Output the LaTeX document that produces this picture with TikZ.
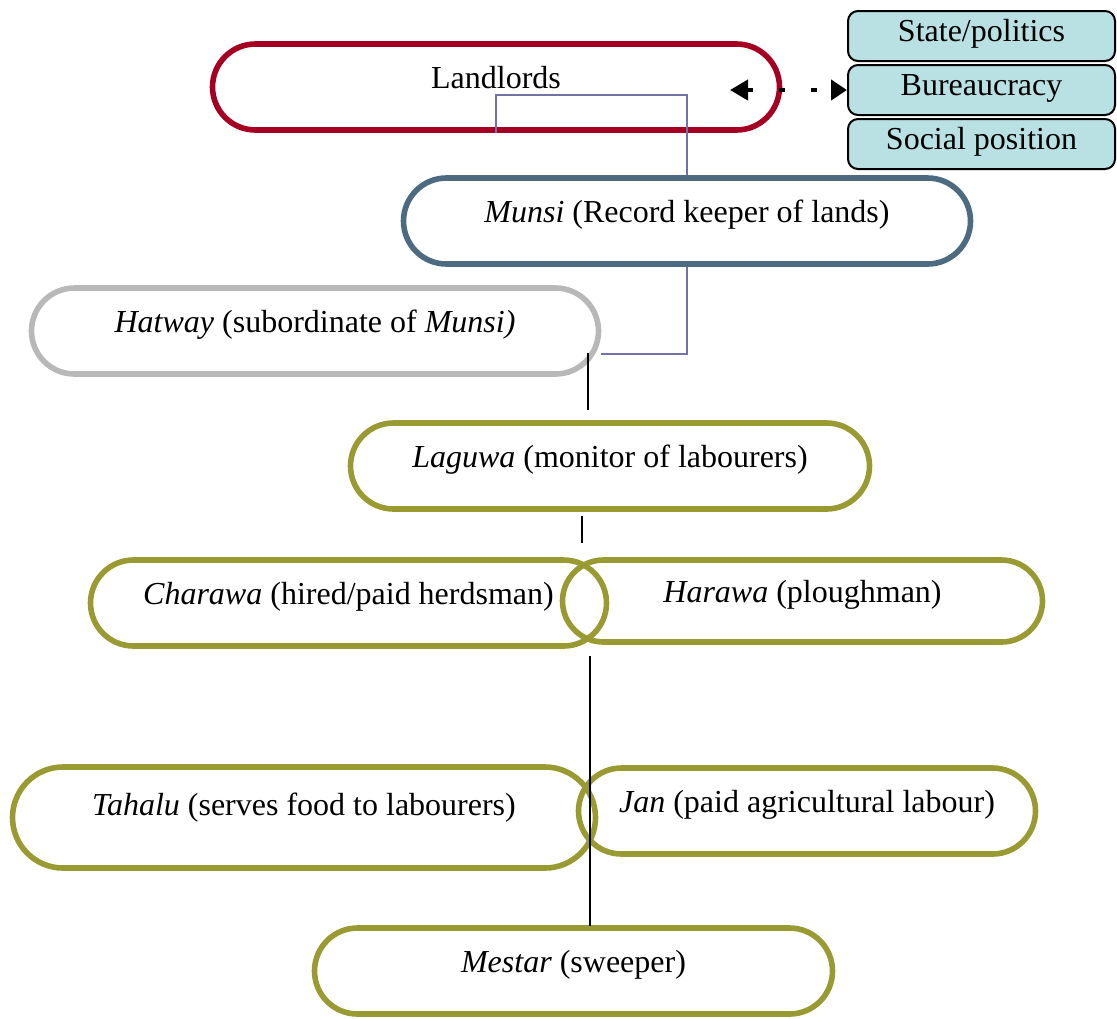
\documentclass[tikz,border=0pt]{standalone}
\usepackage{fontspec}
\setmainfont{Liberation Serif}
\usetikzlibrary{shapes.misc,arrows.meta}
\definecolor{lordred}{HTML}{A50021}
\definecolor{munsiblue}{HTML}{4D6B80}
\definecolor{hatgrey}{HTML}{B8B8B8}
\definecolor{olive}{HTML}{9A9A33}
\definecolor{linkpurple}{HTML}{7272A6}
\definecolor{sideteal}{HTML}{B9E0E3}
\tikzset{
    every node/.style={font=\fontsize{16}{19}\selectfont}
}
\tikzset{
    rank/.style={rounded rectangle, draw, line width=2.8pt, minimum height=43pt,
    	text height=0.55em, text depth=0.45em, inner sep=0pt},
    sidebox/.style={rectangle, rounded corners=5pt, draw, line width=1pt, fill=sideteal,
    	minimum width=133.5pt, minimum height=25pt, text height=0.75em, text depth=0.25em, inner sep=0pt}
}

\begin{document}
\begin{tikzpicture}[x=0.5pt,y=-0.5pt]
	\useasboundingbox (0,0) rectangle (1117,1018);
	\node (lord) [rank, draw=lordred, minimum width=283.5pt] at (496,87) {Landlords};
	\node (munsi) [rank, draw=munsiblue, minimum width=283.5pt] at (687,221) {\textit{Munsi} (Record keeper of lands)};
	\node (hatway) [rank, draw=hatgrey, minimum width=283.5pt] at (315,331) {\textit{Hatway} (subordinate of \textit{Munsi)}};
	\node (laguwa) [rank, draw=olive, minimum width=259.5pt] at (610,466) {\textit{Laguwa} (monitor of labourers)};
	\node (charawa) [rank, draw=olive, minimum width=258pt] at (348.5,603) {\textit{Charawa} (hired/paid herdsman)};
	\node (harawa) [rank, draw=olive, minimum width=240pt, minimum height=41pt] at (802.5,601) {\textit{Harawa} (ploughman)};
	\node (tahalu) [rank, draw=olive, minimum width=291.5pt, minimum height=50.5pt, text depth=0.8em] at (304,817.5) {\textit{Tahalu} (serves food to labourers)};
	\node (jan) [rank, draw=olive, minimum width=228.5pt] at (807,811) {\textit{Jan} (paid agricultural labour)};
	\node (mestar) [rank, draw=olive, minimum width=259pt] at (573.5,971) {\textit{Mestar} (sweeper)};

	\node (state) [sidebox] at (981.5,36) {State/politics};
	\node (bureau) [sidebox] at (981.5,90) {Bureaucracy};
	\node (social) [sidebox] at (981.5,144) {Social position};

	\coordinate (tail) at (730,90);
	\coordinate (h1) at (588,353); \coordinate (l1) at (588,410);
	\coordinate (l2) at (582,516); \coordinate (c1) at (582,543);
	\coordinate (c2) at (590,656); \coordinate (m1) at (590,926);

	\draw [linkpurple, line width=0.75pt] (lord.south) -- ++(0,-38) -| (munsi.north);
	\draw [linkpurple, line width=0.75pt] (munsi.south) |- ++(-86,87);
	\draw [line width=0.6pt] (h1) -- (l1);
	\draw [line width=0.6pt] (l2) -- (c1);
	\draw [line width=0.6pt] (c2) -- (m1);
	\draw [{Triangle[length=9pt,width=10pt]}-{Triangle[length=8pt,width=10pt]}, line width=2pt,
		dash pattern=on 3pt off 13pt] (tail) -- (bureau.west);
\end{tikzpicture}
\end{document}
